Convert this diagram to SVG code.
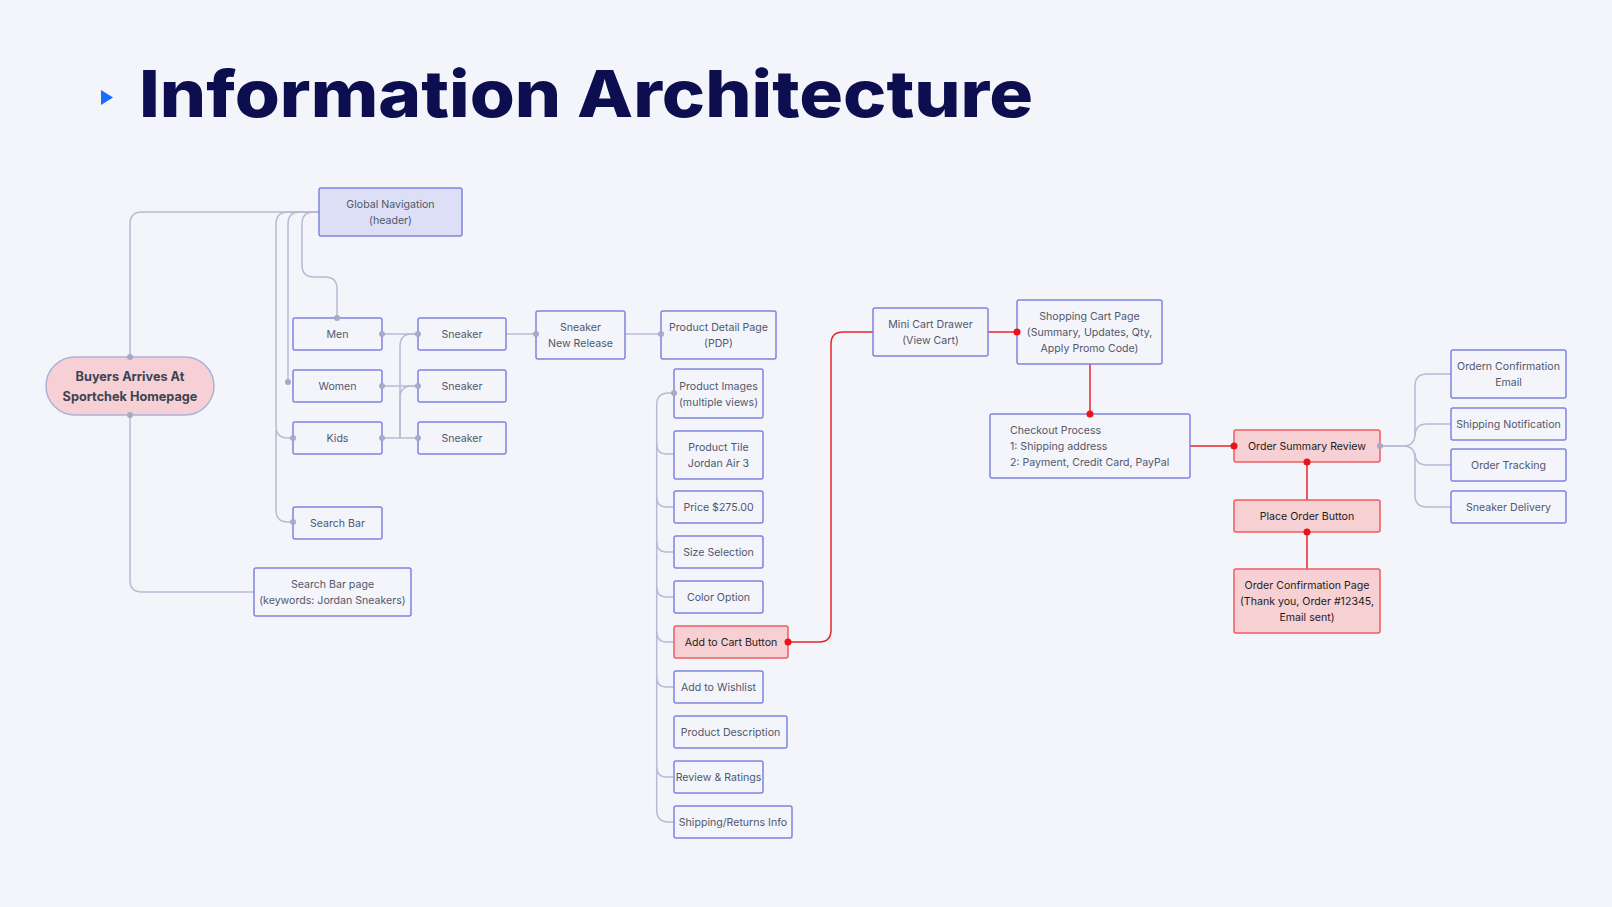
<svg xmlns="http://www.w3.org/2000/svg" width="1612" height="907" viewBox="0 0 1612 907">
<defs>
<style>
.n rect{fill:#f3f5fb;stroke:#7f83e2;stroke-width:1.5}
.n text{font-family:Inter,"Noto Sans","Liberation Sans",sans-serif;font-size:10.6px;fill:#52576a;text-anchor:middle}
.r rect{fill:#f7d0d3;stroke:#ee5c61;stroke-width:1.5}
.r text{fill:#1c1c24}
.c path{fill:none;stroke:#b8bbd3;stroke-width:1.5}
.rc path{fill:none;stroke:#e8242a;stroke-width:1.5}
.dot{fill:#a7aac3}
.rdot{fill:#e8141c}
</style>
</defs>
<rect width="1612" height="907" fill="#f3f5fb"/>
<g id="title">
<polygon points="101,90 113,97.5 101,105" fill="#1a6bff"/>
<text x="139" y="117" font-family="Inter,'Noto Sans','Liberation Sans',sans-serif" font-size="65" font-weight="800" fill="#0c0e4f" textLength="894" lengthAdjust="spacingAndGlyphs">Information Architecture</text>
</g>
<g id="connectors" class="c">
<path d="M319 212 H142 Q130 212 130 224 V357"/>
<path d="M319 212 H288 Q276 212 276 224 V426 Q276 438 288 438 H293"/>
<path d="M276 430 V510 Q276 522 288 522 H293"/>
<path d="M319 212 H300 Q288 212 288 224 V382"/>
<path d="M319 212 H314 Q302 212 302 224 V265 Q302 277 314 277 H325 Q337 277 337 289 V318"/>
<path d="M130 415 V580 Q130 592 142 592 H254"/>
<path d="M382 334 H418"/>
<path d="M382 386 H418"/>
<path d="M382 438 H418"/>
<path d="M400 438 V346 Q400 334 412 334 H418"/>
<path d="M400 438 V398 Q400 386 412 386 H418"/>
<path d="M506 334 H536"/>
<path d="M625 334 H661"/>
<path d="M674 393 H668.7 Q656.7 393 656.7 405 V810 Q656.7 822 668.7 822 H674"/>
<path d="M656.7 444 Q656.7 454 666.7 454 H674"/>
<path d="M656.7 497 Q656.7 507 666.7 507 H674"/>
<path d="M656.7 542 Q656.7 552 666.7 552 H674"/>
<path d="M656.7 587 Q656.7 597 666.7 597 H674"/>
<path d="M656.7 632 Q656.7 642 666.7 642 H674"/>
<path d="M656.7 677 Q656.7 687 666.7 687 H674"/>
<path d="M656.7 767 Q656.7 777 666.7 777 H674"/>
<path d="M1380 446 H1403 Q1415 446 1415 434 V386 Q1415 374 1427 374 H1451"/>
<path d="M1415 436 Q1415 424 1427 424 H1451"/>
<path d="M1380 446 H1403 Q1415 446 1415 458 V495 Q1415 507 1427 507 H1451"/>
<path d="M1415 453 Q1415 465 1427 465 H1451"/>
<g class="rc">
<path d="M788 642 H819 Q831 642 831 630 V344 Q831 332 843 332 H873"/>
<path d="M988 332 H1017"/>
<path d="M1090 364 V414"/>
<path d="M1190 446 H1234"/>
<path d="M1307 462 V500"/>
<path d="M1307 532 V569"/>
</g>
</g>
<g id="buyers">
<rect x="46" y="357" width="168" height="58" rx="29" fill="#f6d0d4" stroke="#a9b3d9" stroke-width="1.5"/>
<text font-family="Inter,'Noto Sans','Liberation Sans',sans-serif" font-size="12.7" font-weight="700" fill="#3c4452" text-anchor="middle"><tspan x="130" y="381">Buyers Arrives At</tspan><tspan x="130" y="400.5">Sportchek Homepage</tspan></text>
</g>
<g id="global-nav" class="n"><rect x="319" y="188" width="143" height="48" rx="2" style="fill:#dcdff6"/><text><tspan x="390.5" y="208">Global Navigation</tspan><tspan x="390.5" y="224">(header)</tspan></text></g>
<g id="men" class="n"><rect x="293" y="318" width="89" height="32" rx="2"/><text x="337.5" y="338">Men</text></g>
<g id="women" class="n"><rect x="293" y="370" width="89" height="32" rx="2"/><text x="337.5" y="390">Women</text></g>
<g id="kids" class="n"><rect x="293" y="422" width="89" height="32" rx="2"/><text x="337.5" y="442">Kids</text></g>
<g id="sneaker1" class="n"><rect x="418" y="318" width="88" height="32" rx="2"/><text x="462" y="338">Sneaker</text></g>
<g id="sneaker2" class="n"><rect x="418" y="370" width="88" height="32" rx="2"/><text x="462" y="390">Sneaker</text></g>
<g id="sneaker3" class="n"><rect x="418" y="422" width="88" height="32" rx="2"/><text x="462" y="442">Sneaker</text></g>
<g id="search-bar" class="n"><rect x="293" y="507" width="89" height="32" rx="2"/><text x="337.5" y="527">Search Bar</text></g>
<g id="search-page" class="n"><rect x="254" y="568" width="157" height="48" rx="2"/><text><tspan x="332.5" y="588">Search Bar page</tspan><tspan x="332.5" y="604">(keywords: Jordan Sneakers)</tspan></text></g>
<g id="new-release" class="n"><rect x="536" y="311" width="89" height="48" rx="2"/><text><tspan x="580.5" y="331">Sneaker</tspan><tspan x="580.5" y="347">New Release</tspan></text></g>
<g id="pdp" class="n"><rect x="661" y="311" width="115" height="48" rx="2"/><text><tspan x="718.5" y="331">Product Detail Page</tspan><tspan x="718.5" y="347">(PDP)</tspan></text></g>
<g id="images" class="n"><rect x="674" y="369" width="89" height="49" rx="2"/><text><tspan x="718.5" y="389.5">Product Images</tspan><tspan x="718.5" y="405.5">(multiple views)</tspan></text></g>
<g id="tile" class="n"><rect x="674" y="431" width="89" height="48" rx="2"/><text><tspan x="718.5" y="451">Product Tile</tspan><tspan x="718.5" y="467">Jordan Air 3</tspan></text></g>
<g id="price" class="n"><rect x="674" y="491" width="89" height="32" rx="2"/><text x="718.5" y="511">Price $275.00</text></g>
<g id="size" class="n"><rect x="674" y="536" width="89" height="32" rx="2"/><text x="718.5" y="556">Size Selection</text></g>
<g id="color" class="n"><rect x="674" y="581" width="89" height="32" rx="2"/><text x="718.5" y="601">Color Option</text></g>
<g id="cart-button" class="n r"><rect x="674" y="626" width="114" height="32" rx="2"/><text x="731" y="646">Add to Cart Button</text></g>
<g id="wishlist" class="n"><rect x="674" y="671" width="89" height="32" rx="2"/><text x="718.5" y="691">Add to Wishlist</text></g>
<g id="description" class="n"><rect x="674" y="716" width="113" height="32" rx="2"/><text x="730.5" y="736">Product Description</text></g>
<g id="reviews" class="n"><rect x="674" y="761" width="89" height="32" rx="2"/><text x="718.5" y="781">Review &amp; Ratings</text></g>
<g id="shipping-returns" class="n"><rect x="674" y="806" width="118" height="32" rx="2"/><text x="733" y="826">Shipping/Returns Info</text></g>
<g id="mini-cart" class="n"><rect x="873" y="308" width="115" height="48" rx="2"/><text><tspan x="930.5" y="328">Mini Cart Drawer</tspan><tspan x="930.5" y="344">(View Cart)</tspan></text></g>
<g id="shopping-cart" class="n"><rect x="1017" y="300" width="145" height="64" rx="2"/><text><tspan x="1089.5" y="320">Shopping Cart Page</tspan><tspan x="1089.5" y="336">(Summary, Updates, Qty,</tspan><tspan x="1089.5" y="352">Apply Promo Code)</tspan></text></g>
<g id="checkout" class="n"><rect x="990" y="414" width="200" height="64" rx="2"/><text style="text-anchor:start"><tspan x="1010" y="434">Checkout Process</tspan><tspan x="1010" y="450">1: Shipping address</tspan><tspan x="1010" y="466">2: Payment, Credit Card, PayPal</tspan></text></g>
<g id="order-summary" class="n r"><rect x="1234" y="430" width="146" height="32" rx="2"/><text x="1307" y="450">Order Summary Review</text></g>
<g id="place-order" class="n r"><rect x="1234" y="500" width="146" height="32" rx="2"/><text x="1307" y="520">Place Order Button</text></g>
<g id="confirmation-page" class="n r"><rect x="1234" y="569" width="146" height="64" rx="2"/><text><tspan x="1307" y="589">Order Confirmation Page</tspan><tspan x="1307" y="605">(Thank you, Order #12345,</tspan><tspan x="1307" y="621">Email sent)</tspan></text></g>
<g id="confirmation-email" class="n"><rect x="1451" y="350" width="115" height="48" rx="2"/><text><tspan x="1508.5" y="370">Ordern Confirmation</tspan><tspan x="1508.5" y="386">Email</tspan></text></g>
<g id="shipping-notification" class="n"><rect x="1451" y="408" width="115" height="32" rx="2"/><text x="1508.5" y="428">Shipping Notification</text></g>
<g id="order-tracking" class="n"><rect x="1451" y="449" width="115" height="32" rx="2"/><text x="1508.5" y="469">Order Tracking</text></g>
<g id="sneaker-delivery" class="n"><rect x="1451" y="491" width="115" height="32" rx="2"/><text x="1508.5" y="511">Sneaker Delivery</text></g>
<g id="connector-dots">
<circle class="dot" cx="130" cy="357" r="3"/>
<circle class="dot" cx="130" cy="415" r="3"/>
<circle class="dot" cx="337" cy="318" r="3"/>
<circle class="dot" cx="288" cy="382" r="3"/>
<circle class="dot" cx="293" cy="438" r="3"/>
<circle class="dot" cx="293" cy="522" r="3"/>
<circle class="dot" cx="382" cy="334" r="3"/>
<circle class="dot" cx="418" cy="334" r="3"/>
<circle class="dot" cx="382" cy="386" r="3"/>
<circle class="dot" cx="418" cy="386" r="3"/>
<circle class="dot" cx="382" cy="438" r="3"/>
<circle class="dot" cx="418" cy="438" r="3"/>
<circle class="dot" cx="536" cy="334" r="3"/>
<circle class="dot" cx="661" cy="334" r="3"/>
<circle class="dot" cx="674" cy="393" r="3"/>
<circle class="dot" cx="1380" cy="446" r="3"/>
<circle class="rdot" cx="788" cy="642" r="3.5"/>
<circle class="rdot" cx="1017" cy="332" r="3.5"/>
<circle class="rdot" cx="1090" cy="414" r="3.5"/>
<circle class="rdot" cx="1234" cy="446" r="3.5"/>
<circle class="rdot" cx="1307" cy="462" r="3.5"/>
<circle class="rdot" cx="1307" cy="532" r="3.5"/>
</g>
</svg>
